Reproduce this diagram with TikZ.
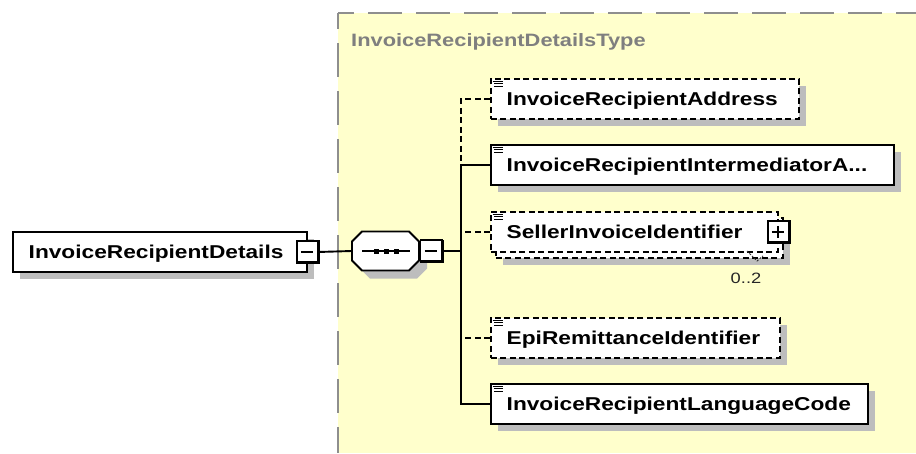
\documentclass[tikz,border=0pt]{standalone}
\usepackage{fontspec}
\newfontfamily\dfont[FakeStretch=1.22]{Liberation Sans}
\usetikzlibrary{calc}
\definecolor{bgyellow}{HTML}{FFFFCC}
\definecolor{shgray}{HTML}{BDBDBD}
\definecolor{brdgray}{HTML}{8E8E8E}
\definecolor{ttlgray}{HTML}{7F7F7F}
\newcommand\docicon[1]{%
  \draw[line width=1pt] ($(#1.north west)+(2.5,3)$) -- ++(10,0)
    ($(#1.north west)+(4,5.8)$) -- ++(8.5,0)
    ($(#1.north west)+(4,8.6)$) -- ++(8.5,0);}
\newcommand\pmthick[1]{%
  \draw[line width=3pt] ($(#1.north east)+(-1,1)$) -- ($(#1.south east)+(-1,-1)$) -- ($(#1.south west)+(1,-1)$);}
\newcommand\pmminus[1]{%
  \draw[line width=1.6pt] ($(#1.center)+(-7,0)$) -- ($(#1.center)+(5,0)$);}
\newcommand\pmplus[1]{%
  \draw[line width=1.6pt] ($(#1.center)+(-7,0)$) -- ($(#1.center)+(5,0)$)
    ($(#1.center)+(-1,-6)$) -- ($(#1.center)+(-1,6)$);}
\newcommand\childbox[7]{%
  \fill[shadow] (#2+8,#3+8) rectangle ++(#4,#5);
  \node[#6,minimum width=#4pt,minimum height=#5pt] (#1) at (#2,#3) {};
  \node[lbl] (#1t) at ($(#1.west)+(16.5,6.5)$) {#7};
  \docicon{#1}}
\begin{document}
\begin{tikzpicture}[x=1pt,y=-1pt,
  elbox/.style={draw=black,line width=1.9pt,fill=white,rectangle,anchor=north west,inner sep=0pt},
  optbox/.style={elbox,dash pattern=on 6pt off 3.5pt},
  shadow/.style={fill=shgray},
  lbl/.style={font=\dfont\bfseries\fontsize{18.6}{22}\selectfont,anchor=base west,inner sep=0pt,text=black},
  conn/.style={line width=1.9pt},
  optconn/.style={conn,dash pattern=on 6pt off 3.5pt},
  pm/.style={draw=black,fill=white,line width=1.3pt,minimum width=22pt,minimum height=22pt,inner sep=0pt},
  ]
\useasboundingbox (0,0) rectangle (916,453);
\fill[white] (0,0) rectangle (916,453);
\fill[bgyellow] (338,13) rectangle (916,453);
\draw[brdgray,line width=2.2pt,dash pattern=on 34pt off 14pt,dash phase=18pt] (338,13) -- (916,13);
\draw[brdgray,line width=2.2pt,dash pattern=on 34pt off 14pt,dash phase=18pt] (338,13) -- (338,453);
\node[font=\dfont\bfseries\fontsize{17.9}{20}\selectfont,text=ttlgray,anchor=base west,inner sep=0pt] (title) at (351,46.5) {InvoiceRecipientDetailsType};

% root element
\fill[shadow] (20,239) rectangle ++(294,40);
\node[elbox,minimum width=294pt,minimum height=40pt] (root) at (12,231) {};
\node[lbl] (roott) at ($(root.west)+(16.5,6.5)$) {InvoiceRecipientDetails};
\node[pm] (rootpm) at (root.east) {};
\pmthick{rootpm}
\pmminus{rootpm}

% sequence compositor
\fill[shadow] (370,239.5) -- (417,239.5) -- (427,249.5) -- (427,268.5) -- (417,278.5) -- (370,278.5) -- (360,268.5) -- (360,249.5) -- cycle;
\node[minimum width=67pt,minimum height=39pt,inner sep=0pt] (seq) at (385.5,251) {};
\filldraw[fill=white,draw=black,line width=1.9pt] (362,231.5) -- (409,231.5) -- (419,241.5) -- (419,260.5) -- (409,270.5) -- (362,270.5) -- (352,260.5) -- (352,241.5) -- cycle;
\draw[line width=1.6pt] (362,251) -- (410,251);
\fill (374.2,248.5) rectangle ++(5,5);
\fill (383.5,248.5) rectangle ++(5,5);
\fill (393.5,248.5) rectangle ++(5,5);
\node[pm] (seqpm) at (431.5,251) {};
\pmthick{seqpm}
\pmminus{seqpm}
\coordinate (bus) at (461,251);
\draw[conn] (rootpm.east) -- (seq.west);
\draw[conn] (seqpm.east) -- (bus);

% children
\childbox{addr}{490}{78}{308}{40}{optbox}{InvoiceRecipientAddress}
\childbox{inter}{490}{144}{403}{40}{elbox}{InvoiceRecipientIntermediatorA...}

\fill[shadow] (503,225) rectangle ++(287,40);
\node[optbox,minimum width=287pt,minimum height=40pt] (sellerb) at (495,217) {};
\node[optbox,minimum width=287pt,minimum height=40pt] (seller) at (490,211) {};
\node[lbl] (sellert) at ($(seller.west)+(16.5,6.5)$) {SellerInvoiceIdentifier};
\docicon{seller}
\node[pm] (sellerpm) at (seller.east) {};
\pmthick{sellerpm}
\pmplus{sellerpm}
\draw[line width=1pt,dash pattern=on 2pt off 1.5pt,black!80] (747,251) -- (757,261) -- (763,256);
\node[font=\dfont\fontsize{15}{17}\selectfont,text=black!85,inner sep=0pt] (occ) at (746,278) {0..2};

\childbox{epi}{490}{317}{289}{40}{optbox}{EpiRemittanceIdentifier}
\childbox{lang}{490}{383}{377}{40}{elbox}{InvoiceRecipientLanguageCode}

\draw[optconn] (addr.west) -- (addr.west -| bus) -- (inter.west -| bus);
\draw[conn] (inter.west) -- (inter.west -| bus) -- (lang.west -| bus) -- (lang.west);
\draw[optconn] (seller.west) -- (seller.west -| bus);
\draw[optconn] (epi.west) -- (epi.west -| bus);
\end{tikzpicture}
\end{document}
